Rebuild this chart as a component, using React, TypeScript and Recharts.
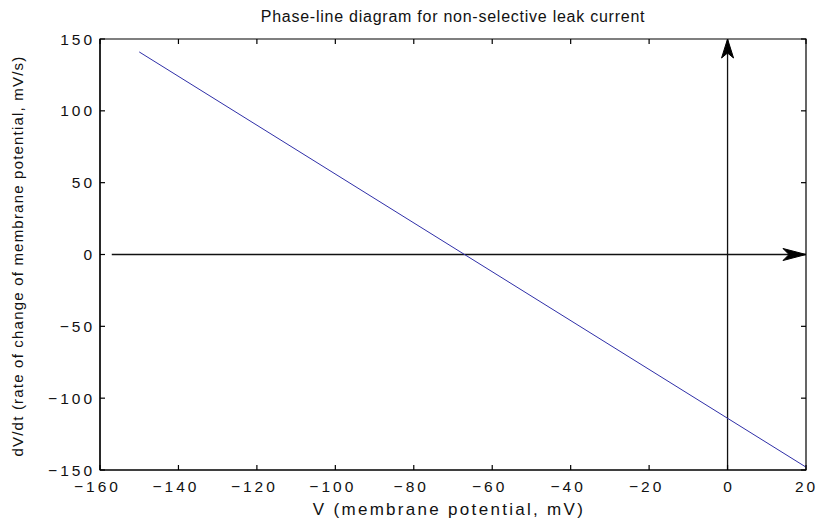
import React from "react";
import { LineChart, Line, XAxis, YAxis, ReferenceArea } from "recharts";

// Leak current phase line: dV/dt vs V
const leakV = [-150, 20];
const leakRate = [141, -148];

// Horizontal axis arrow (dV/dt = 0)
const hArrowV = [-157, 20];
const hArrowRate = [0, 0];

// Vertical axis arrow (V = 0)
const vArrowV = [0, 0];
const vArrowRate = [-150, 150];

const xTicks = [-160, -140, -120, -100, -80, -60, -40, -20, 0, 20];
const yTicks = [-150, -100, -50, 0, 50, 100, 150];

const title = "Phase-line diagram for non-selective leak current";
const xTitle = "V (membrane potential, mV)";
const yTitle = "dV/dt (rate of change of membrane potential, mV/s)";

const leakData = leakV.map((v, i) => ({ v, r: leakRate[i] }));
const hData = hArrowV.map((v, i) => ({ v, r: hArrowRate[i] }));
const vData = vArrowV.map((v, i) => ({ v, r: vArrowRate[i] }));

const FONT = "'Liberation Sans', Arial, Helvetica, sans-serif";
const fmt = (n: number) => String(n).replace("-", "\u2212");

// layout
const W = 816;
const H = 523;
const M_TOP = 39;
const M_RIGHT = 10;
const M_BOTTOM = 8;
const Y_AXIS_W = 100;
const X_AXIS_H = 45;
const PT = M_TOP;
const PB = H - M_BOTTOM - X_AXIS_H;
const PL = Y_AXIS_W;
const PR = W - M_RIGHT;
const TICK = 5;
const LS = 3;

const RightHead = (props: any) => {
  const { cx, cy, index } = props;
  if (index !== hData.length - 1) return <g key={`h${index}`} />;
  const d = `M${cx},${cy} L${cx - 23},${cy - 6} L${cx - 17},${cy} L${cx - 23},${cy + 6} Z`;
  return <path key={`h${index}`} d={d} fill="#000" stroke="#000" strokeWidth={1} />;
};

const UpHead = (props: any) => {
  const { cx, cy, index } = props;
  if (index !== vData.length - 1) return <g key={`v${index}`} />;
  const d = `M${cx},${cy} L${cx - 6},${cy + 19} L${cx},${cy + 14} L${cx + 6},${cy + 19} Z`;
  return <path key={`v${index}`} d={d} fill="#000" stroke="#000" strokeWidth={1} />;
};

const labelStyle = { fontSize: 15.5, fill: "#111", fontFamily: FONT };

// spaced text with no trailing spacing after the last glyph
const Spaced = ({ s }: { s: string }) => (
  <>
    <tspan style={{ letterSpacing: LS }}>{s.slice(0, -1)}</tspan>
    <tspan style={{ letterSpacing: 0 }}>{s.slice(-1)}</tspan>
  </>
);

const XTick = (props: any) => {
  const { x, y, payload } = props;
  const v = payload.value as number;
  const dx = v < 0 ? -4 : v > 0 ? -1 : 0;
  return (
    <g>
      <line x1={x} x2={x} y1={PB} y2={PB - TICK} stroke="#000" strokeWidth={1.2} />
      <line x1={x} x2={x} y1={PT} y2={PT + TICK} stroke="#000" strokeWidth={1.2} />
      <text x={x + dx} y={y} dy="0.71em" textAnchor="middle" style={labelStyle}>
        <Spaced s={fmt(v)} />
      </text>
    </g>
  );
};

const YTick = (props: any) => {
  const { x, y, payload } = props;
  return (
    <g>
      <line x1={PL} x2={PL + TICK} y1={y} y2={y} stroke="#000" strokeWidth={1.2} />
      <line x1={PR} x2={PR - TICK} y1={y} y2={y} stroke="#000" strokeWidth={1.2} />
      <text x={x} y={y} dy="0.355em" textAnchor="end" style={labelStyle}>
        <Spaced s={fmt(payload.value)} />
      </text>
    </g>
  );
};

export default function App() {
  return (
    <div style={{ position: "absolute", left: 0, top: 0, width: W, height: H, background: "#fff" }}>
      <LineChart
        width={W}
        height={H}
        margin={{ top: M_TOP, right: M_RIGHT, bottom: M_BOTTOM, left: 0 }}
        style={{ fontFamily: FONT }}
      >
        <XAxis
          xAxisId="x"
          dataKey="v"
          type="number"
          domain={[-160, 20]}
          ticks={xTicks}
          allowDataOverflow
          height={X_AXIS_H}
          tickLine={false}
          tickSize={0}
          tickMargin={11}
          tick={XTick}
          axisLine={{ stroke: "#000", strokeWidth: 1.2 }}
        />
        <YAxis
          yAxisId="y"
          dataKey="r"
          type="number"
          domain={[-150, 150]}
          ticks={yTicks}
          allowDataOverflow
          width={Y_AXIS_W}
          tickLine={false}
          tickSize={0}
          tickMargin={8}
          tick={YTick}
          axisLine={{ stroke: "#000", strokeWidth: 1.2 }}
        />
        <ReferenceArea
          xAxisId="x"
          yAxisId="y"
          x1={-160}
          x2={20}
          y1={-150}
          y2={150}
          fill="none"
          fillOpacity={0}
          stroke="#000"
          strokeWidth={1.2}
          ifOverflow="visible"
        />
        <Line
          xAxisId="x"
          yAxisId="y"
          data={hData}
          dataKey="r"
          type="linear"
          stroke="#111"
          strokeWidth={1.3}
          dot={RightHead}
          activeDot={false}
          isAnimationActive={false}
        />
        <Line
          xAxisId="x"
          yAxisId="y"
          data={vData}
          dataKey="r"
          type="linear"
          stroke="#111"
          strokeWidth={1.3}
          dot={UpHead}
          activeDot={false}
          isAnimationActive={false}
        />
        <Line
          xAxisId="x"
          yAxisId="y"
          data={leakData}
          dataKey="r"
          type="linear"
          stroke="#2f2fa8"
          strokeWidth={1}
          dot={false}
          activeDot={false}
          isAnimationActive={false}
        />
      </LineChart>
      <div
        style={{
          position: "absolute",
          left: PL,
          top: 7,
          width: PR - PL,
          textAlign: "center",
          fontFamily: FONT,
          fontSize: 16,
          lineHeight: "20px",
          color: "#111",
          letterSpacing: 0.75,
        }}
      >
        {title}
      </div>
      <div
        style={{
          position: "absolute",
          left: PL - 4,
          top: 499,
          width: PR - PL,
          textAlign: "center",
          fontFamily: FONT,
          fontSize: 17,
          lineHeight: "22px",
          color: "#111",
          letterSpacing: 2.3,
        }}
      >
        {xTitle}
      </div>
      <div
        style={{
          position: "absolute",
          left: 18,
          top: 256,
          width: 600,
          textAlign: "center",
          fontFamily: FONT,
          fontSize: 15,
          lineHeight: "18px",
          color: "#111",
          letterSpacing: 1.2,
          whiteSpace: "nowrap",
          transform: "translate(-50%, -50%) rotate(-90deg)",
        }}
      >
        {yTitle}
      </div>
    </div>
  );
}
